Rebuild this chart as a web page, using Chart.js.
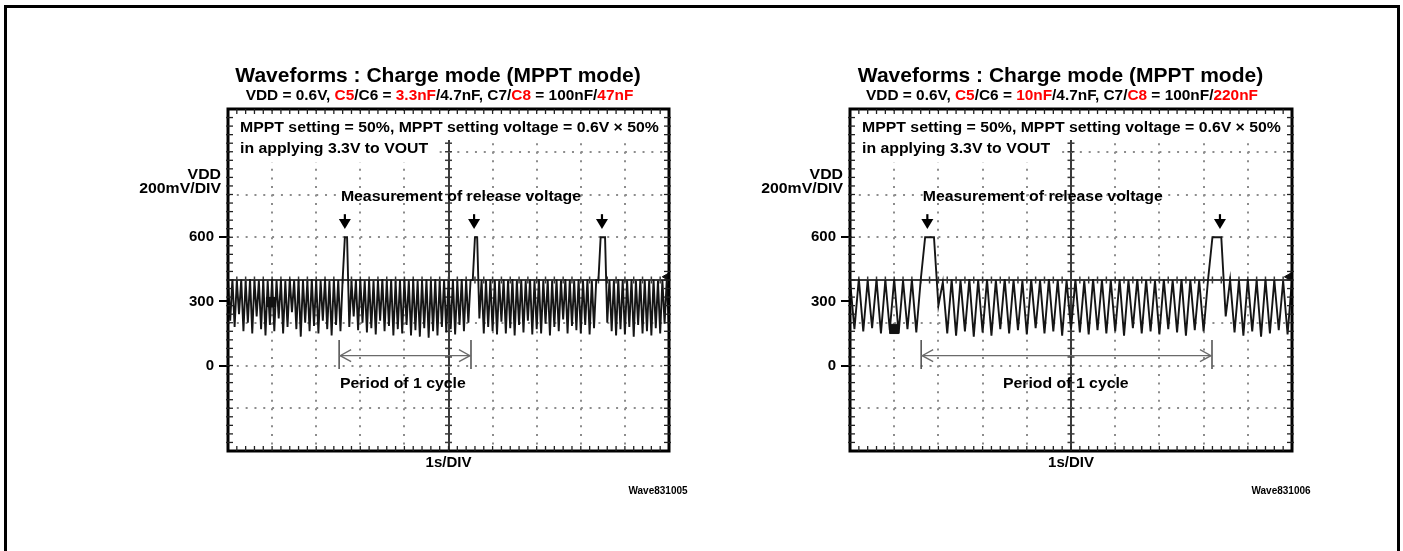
<!DOCTYPE html>
<html>
<head>
<meta charset="utf-8">
<title>Waveforms : Charge mode (MPPT mode)</title>
<script src="https://cdn.jsdelivr.net/npm/chart.js@4.4.0/dist/chart.umd.min.js"></script>
<style>
  html, body { margin: 0; padding: 0; background: #fff; }
  #page { position: relative; width: 1403px; height: 551px; overflow: hidden; }
  #frame { position: absolute; left: 4px; top: 5px; width: 1396px; height: 600px; border: 3px solid #000; box-sizing: border-box; }
  canvas { position: absolute; top: 0; }
  #wave1 { left: 0; }
  #wave2 { left: 700px; }
</style>
</head>
<body>
<div id="page">
  <div id="frame"></div>
  <canvas id="wave1" width="700" height="551"></canvas>
  <canvas id="wave2" width="703" height="551"></canvas>
</div>
<script>
const FONT = '"Liberation Sans", Arial, sans-serif';
const STRETCH = 1.13;

// -- DATA (VDD in mV, sampled every STEP seconds)

const STEP1 = 0.05;
const vdd1 = [
    400,210,405,180,398,240,402,160,395,200,405,150,400,230,398,170,402,140,396,190,
    404,160,398,220,402,150,395,180,405,250,398,170,402,135,400,200,396,160,404,185,
    400,150,398,210,405,170,395,140,402,190,400,160,402,600,600,180,395,230,400,165,
    405,200,398,155,402,175,396,145,400,210,404,160,398,185,402,140,395,170,400,150,
    402,190,398,140,405,165,396,135,400,175,402,130,398,160,404,140,396,180,400,155,
    398,170,402,145,396,190,404,160,400,200,398,400,600,600,220,400,150,398,180,402,
    160,400,145,396,205,402,150,398,175,404,140,398,190,400,155,396,210,402,145,398,
    170,404,150,398,195,400,140,396,180,402,160,398,215,404,150,400,185,396,165,402,
    150,398,190,402,145,396,175,400,400,600,600,600,200,400,160,398,140,404,170,400,
    145,398,180,402,135,396,190,404,150,400,160,398,140,402,175,396,150,400,195,404,
    165
];

const STEP2 = 0.1;
const vdd2 = [
    400,170,405,160,398,175,402,150,400,165,
    404,150,398,170,402,155,400,600,600,600,
    280,390,150,402,140,398,160,404,135,400,
    155,402,140,398,170,404,150,400,165,396,
    145,402,175,398,150,404,160,400,140,398,
    170,402,155,396,145,404,165,400,150,398,
    160,402,140,398,175,404,150,400,160,396,
    145,402,170,398,155,404,140,400,165,398,
    160,400,600,600,600,230,400,155,398,140,
    404,160,398,135,402,150,400,165,396,145,
    402
];

const yTicks = [-400, -200, 0, 200, 300, 400, 600, 800, 1000, 1200];
const yLabels = [0, 300, 600];

// annotation anchors [s] / [mV]
const releaseT1 = [2.65, 5.58, 8.48];
const releaseT2 = [1.75, 8.37];
const periodT1 = [2.52, 5.51];
const periodT2 = [1.61, 8.19];
const measureAt1 = [2.56, 788];
const measureAt2 = [1.645, 788];
const periodTextAt1 = [2.54, -87];
const periodTextAt2 = [3.46, -87];
const chMark1 = [0.975, 297];
const chMark2 = [1.0, 171];
const trigMark1 = [9.95, 415];
const trigMark2 = [9.93, 415];
const ARROW_TOP = 708, ARROW_TIP = 639;
const PERIOD_Y = 46, PERIOD_BAR = [-16, 119];

// -- TEXT HELPER (bold, slightly widened like the scope print)

function drawText(ctx, parts, x, y, size, align, sx) {
    ctx.save();
    ctx.font = `bold ${size}px ${FONT}`;
    ctx.textBaseline = "middle";
    ctx.textAlign = "left";
    let w = 0;
    parts.forEach(p => w += ctx.measureText(p[0]).width);
    let x0 = align === "center" ? x - w * sx / 2 : align === "right" ? x - w * sx : x;
    ctx.translate(x0, y);
    ctx.scale(sx, 1);
    let px = 0;
    parts.forEach(p => {
        ctx.fillStyle = p[1] || "#000";
        ctx.fillText(p[0], px, 0);
        px += ctx.measureText(p[0]).width;
    });
    ctx.restore();
    return w * sx;
}

function seg(ctx, x1, y1, x2, y2) {
    ctx.beginPath();
    ctx.moveTo(x1, y1);
    ctx.lineTo(x2, y2);
    ctx.stroke();
}

const dotDash = period => [2, period - 2];

// -- SCOPE GRATICULE + LABELS

const scopePlugin = {
    id: "scope",
    beforeDatasetsDraw(chart, args, o) {
        const ctx = chart.ctx;
        const a = chart.chartArea;
        const xs = chart.scales.x, ys = chart.scales.y;
        const yc = ys.getPixelForValue(400), xc = xs.getPixelForValue(5);
        ctx.save();
        ctx.strokeStyle = "#3a3a3a";
        ctx.lineWidth = 1.5;
        for (let k = 0; k <= 50; k++) {
            const x = xs.getPixelForValue(k * 0.2);
            seg(ctx, x, yc - 3.5, x, yc + 3.5);
        }
        for (let k = 0; k <= 40; k++) {
            const y = ys.getPixelForValue(-400 + k * 40);
            seg(ctx, xc - 3.5, y, xc + 3.5, y);
        }
        // white boxes behind the setting notes
        ctx.fillStyle = "#fff";
        ctx.fillRect(a.left + 2, a.top + 2, a.right - a.left - 4, 29);
        ctx.font = `bold 14px ${FONT}`;
        const w2 = ctx.measureText(o.note2).width * STRETCH;
        ctx.fillRect(a.left + 2, a.top + 31, w2 + 16, 22);
        ctx.restore();
        drawText(ctx, [[o.note1]], a.left + 12, a.top + 19, 14, "left", STRETCH);
        drawText(ctx, [[o.note2]], a.left + 12, a.top + 40, 14, "left", STRETCH);
    },
    afterDatasetsDraw(chart, args, o) {
        const ctx = chart.ctx;
        const a = chart.chartArea;
        const xs = chart.scales.x, ys = chart.scales.y;
        ctx.save();
        // frame with minor hashes
        ctx.strokeStyle = "#000";
        ctx.lineWidth = 3;
        ctx.strokeRect(a.left, a.top, a.right - a.left, a.bottom - a.top);
        ctx.lineWidth = 1.3;
        ctx.strokeStyle = "#222";
        for (let k = 1; k < 50; k++) {
            const x = xs.getPixelForValue(k * 0.2);
            seg(ctx, x, a.top, x, a.top + 5);
            seg(ctx, x, a.bottom - 5, x, a.bottom);
        }
        for (let k = 1; k < 40; k++) {
            const y = ys.getPixelForValue(-400 + k * 40);
            seg(ctx, a.left - 2, y, a.left + 5, y);
            seg(ctx, a.right - 5, y, a.right + 2, y);
        }
        // release arrows
        ctx.strokeStyle = "#000";
        ctx.fillStyle = "#000";
        ctx.lineWidth = 2.2;
        o.release.forEach(t => {
            const x = xs.getPixelForValue(t);
            const y0 = ys.getPixelForValue(ARROW_TOP), y1 = ys.getPixelForValue(ARROW_TIP);
            seg(ctx, x, y0, x, y1 - 8);
            ctx.beginPath();
            ctx.moveTo(x - 6, y1 - 10);
            ctx.lineTo(x + 6, y1 - 10);
            ctx.lineTo(x, y1);
            ctx.closePath();
            ctx.fill();
        });
        // period arrow
        const p0 = xs.getPixelForValue(o.period[0]), p1 = xs.getPixelForValue(o.period[1]);
        const py = ys.getPixelForValue(PERIOD_Y);
        const b0 = ys.getPixelForValue(PERIOD_BAR[0]), b1 = ys.getPixelForValue(PERIOD_BAR[1]);
        ctx.strokeStyle = "#4a4a4a";
        ctx.lineWidth = 1.5;
        seg(ctx, p0, b0, p0, b1);
        seg(ctx, p1, b0, p1, b1);
        ctx.strokeStyle = "#6a6a6a";
        ctx.lineWidth = 1.3;
        seg(ctx, p0, py, p1, py);
        ctx.beginPath();
        ctx.moveTo(p0 + 12, py - 6); ctx.lineTo(p0 + 1, py); ctx.lineTo(p0 + 12, py + 6);
        ctx.moveTo(p1 - 12, py - 6); ctx.lineTo(p1 - 1, py); ctx.lineTo(p1 - 12, py + 6);
        ctx.stroke();
        ctx.restore();
        drawText(ctx, [["Measurement of release voltage"]], xs.getPixelForValue(o.measureAt[0]), ys.getPixelForValue(o.measureAt[1]), 14, "left", STRETCH);
        drawText(ctx, [["Period of 1 cycle"]], xs.getPixelForValue(o.periodTextAt[0]), ys.getPixelForValue(o.periodTextAt[1]), 14, "left", STRETCH);
    },
    afterDraw(chart, args, o) {
        const ctx = chart.ctx;
        const a = chart.chartArea;
        const cx = (a.left + a.right) / 2;
        drawText(ctx, [[o.title]], cx - 10.5, a.top - 33, 21, "center", 1);
        drawText(ctx, o.sub, cx - 9, a.top - 13, 14, "center", 1.1);
        drawText(ctx, [["VDD"]], a.left - 7, a.top + 66, 14, "right", STRETCH);
        drawText(ctx, [["200mV/DIV"]], a.left - 7, a.top + 80, 14, "right", STRETCH);
        drawText(ctx, [[o.tag]], a.right - 11, a.bottom + 40, 10, "center", 1);
    }
};

function makeChart(id, cfg) {
    const pts = cfg.values.map((v, i) => ({ x: +(i * cfg.step).toFixed(2), y: v }));
    return new Chart(document.getElementById(id), {
        type: "line",
        data: {
            datasets: [
                {
                    data: pts,
                    borderColor: "#151515",
                    borderWidth: 1.9,
                    pointRadius: 0,
                    tension: 0,
                    order: 2
                },
                {
                    data: [{ x: cfg.chMark[0], y: cfg.chMark[1] }],
                    showLine: false,
                    pointStyle: "rect",
                    pointRadius: 6.5,
                    backgroundColor: "#111",
                    borderColor: "#111",
                    order: 1
                },
                {
                    data: [{ x: cfg.trigMark[0], y: cfg.trigMark[1] }],
                    showLine: false,
                    pointStyle: "triangle",
                    rotation: -90,
                    pointRadius: 4.5,
                    backgroundColor: "#111",
                    borderColor: "#111",
                    clip: false,
                    order: 1
                }
            ]
        },
        options: {
            responsive: false,
            animation: false,
            events: [],
            layout: { autoPadding: false, padding: cfg.padding },
            plugins: {
                legend: { display: false },
                tooltip: { enabled: false },
                scope: cfg.deco
            },
            scales: {
                x: {
                    type: "linear",
                    min: 0,
                    max: 10,
                    ticks: { display: false, stepSize: 1 },
                    grid: {
                        color: c => (c.tick && c.tick.value === 5) ? "#3a3a3a" : "#8c8c8c",
                        lineWidth: 2,
                        drawTicks: false
                    },
                    border: {
                        display: false,
                        dash: c => (c.tick && c.tick.value === 5) ? [] : dotDash(c.chart.chartArea.height / 40)
                    },
                    title: {
                        display: true,
                        text: "1s/DIV",
                        color: "#000",
                        font: { family: FONT, size: 15, weight: "bold" },
                        padding: 0
                    },
                    afterFit: s => { s.height = 21; s.paddingLeft = 0; s.paddingRight = 0; }
                },
                y: {
                    type: "linear",
                    min: -400,
                    max: 1200,
                    afterBuildTicks: s => { s.ticks = yTicks.map(v => ({ value: v })); },
                    ticks: {
                        color: "#000",
                        font: { family: FONT, size: 15, weight: "bold" },
                        padding: 5,
                        autoSkip: false,
                        callback: v => yLabels.includes(v) ? String(v) : ""
                    },
                    grid: {
                        color: c => {
                            const v = c.tick ? c.tick.value : null;
                            if (v === 300) return "rgba(0,0,0,0)";
                            return v === 400 ? "#3a3a3a" : "#8c8c8c";
                        },
                        lineWidth: 2,
                        drawTicks: true,
                        tickLength: 9,
                        tickWidth: 2,
                        tickColor: c => (c.tick && yLabels.includes(c.tick.value)) ? "#000" : "rgba(0,0,0,0)"
                    },
                    border: {
                        display: false,
                        dash: c => (c.tick && c.tick.value === 400) ? [] : dotDash(c.chart.chartArea.width / 50)
                    },
                    afterFit: s => { s.width = 60; s.paddingTop = 0; s.paddingBottom = 0; }
                }
            }
        },
        plugins: [scopePlugin]
    });
}

const NOTE1 = "MPPT setting = 50%, MPPT setting voltage = 0.6V \u00d7 50%";
const NOTE2 = "in applying 3.3V to VOUT";
const RED = "#ff0000";

makeChart("wave1", {
    values: vdd1,
    step: STEP1,
    chMark: chMark1,
    trigMark: trigMark1,
    padding: { left: 168, right: 31, top: 109, bottom: 79 },
    deco: {
        title: "Waveforms : Charge mode (MPPT mode)",
        sub: [["VDD = 0.6V, "], ["C5", RED], ["/C6 = "], ["3.3nF", RED], ["/4.7nF, C7/"], ["C8", RED], [" = 100nF/"], ["47nF", RED]],
        note1: NOTE1,
        note2: NOTE2,
        release: releaseT1,
        period: periodT1,
        measureAt: measureAt1,
        periodTextAt: periodTextAt1,
        tag: "Wave831005"
    }
});

makeChart("wave2", {
    values: vdd2,
    step: STEP2,
    chMark: chMark2,
    trigMark: trigMark2,
    padding: { left: 90, right: 111, top: 109, bottom: 79 },
    deco: {
        title: "Waveforms : Charge mode (MPPT mode)",
        sub: [["VDD = 0.6V, "], ["C5", RED], ["/C6 = "], ["10nF", RED], ["/4.7nF, C7/"], ["C8", RED], [" = 100nF/"], ["220nF", RED]],
        note1: NOTE1,
        note2: NOTE2,
        release: releaseT2,
        period: periodT2,
        measureAt: measureAt2,
        periodTextAt: periodTextAt2,
        tag: "Wave831006"
    }
});
</script>
</body>
</html>
